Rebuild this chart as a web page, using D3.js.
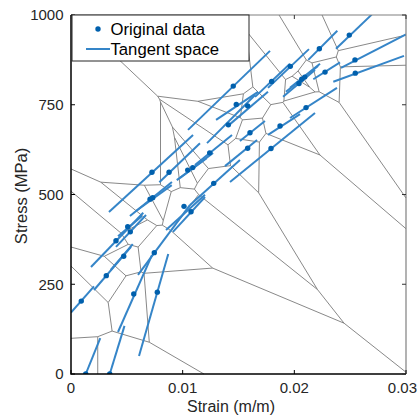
<!DOCTYPE html>
<meta charset="utf-8">
<style>
body{margin:0;background:white}
text{font-family:"Liberation Sans",Arial,sans-serif;fill:#262626}
.cells path{fill:none;stroke:#7a7a7a;stroke-width:0.9px}
.tangents line{stroke:#3585c8;stroke-width:2px;stroke-linecap:butt}
.pts circle{fill:#0060ad}
</style>
<svg width="417" height="415"></svg>
<script src="https://d3js.org/d3.v7.min.js"></script>
<script>

// data points
var strain = [0.00132,0.00347,0.00092,0.00316,0.00472,0.00403,0.00508,0.00531,0.00746,0.00562,
  0.00773,0.00708,0.00732,0.01012,0.01075,0.00725,0.00878,0.01045,0.01090,0.01242,
  0.01278,0.01409,0.01453,0.01480,0.01582,0.01603,0.01582,0.01791,0.01872,0.01797,
  0.01964,0.02042,0.02066,0.02093,0.02105,0.02224,0.02275,0.02492,0.02543,0.02546];
var stress = [0,0,203,274,328,371,410,396,338,223,
  228,487,491,467,452,562,562,568,575,616,
  531,694,802,751,747,672,629,628,691,815,
  857,809,821,827,742,906,841,944,875,838];

// tangent segments, one per point (start / end)
var tanStrain0 = [0.00132,0.00347,0,0.00206,0.00356,0.00179,0.00421,0.00403,0.0060,0.00421,
  0.00609,0.00528,0.00582,0.00851,0.00913,0.0034,0.00791,0.00947,0.00976,0.0111,
  0.01066,0.01218,0.01048,0.01299,0.01424,0.01513,0.01379,0.01424,0.01764,0.01648,
  0.01764,0.01899,0.01925,0.01961,0.01961,0.02125,0.0217,0.02373,0.02418,0.02349];
var tanStress0 = [0,0,171,234,290,298,384,354,276,117,
  50,440,454,401,396,451,534,540,546,582,
  471,643,680,708,696,649,579,535,666,772,
  797,772,786,797,713,875,821,906,853,814];
var tanStrain1 = [0.00262,0.00479,0.00206,0.00537,0.00553,0.00647,0.00636,0.00672,0.01066,0.00725,
  0.00871,0.00904,0.00902,0.0120,0.0120,0.01093,0.01155,0.01215,0.01272,0.01442,
  0.01513,0.01648,0.01782,0.01675,0.01764,0.01737,0.01666,0.02185,0.02051,0.01961,
  0.02131,0.02185,0.02212,0.0223,0.02382,0.02385,0.02409,0.02693,0.030,0.02982];
var tanStress1 = [100,134,244,354,362,449,440,443,471,331,
  334,535,526,499,493,666,643,601,616,666,
  596,777,900,786,786,705,652,727,724,864,
  905,847,858,864,797,956,868,1001,946,886];

var xTicks = [0, 0.01, 0.02, 0.03];
var xTickLabels = ["0", "0.01", "0.02", "0.03"];
var yTicks = [0, 250, 500, 750, 1000];

var svg = d3.select("svg");
var x0 = 71, x1 = 406, y0 = 374, y1 = 15;

var x = d3.scaleLinear().domain([0, 0.03]).range([x0, x1]);
var y = d3.scaleLinear().domain([0, 1000]).range([y0, y1]);

svg.append("defs").append("clipPath").attr("id", "plot")
  .append("rect").attr("x", x0).attr("y", y1)
  .attr("width", x1 - x0).attr("height", y0 - y1);

var pts = strain.map(function(d, i) { return [x(d), y(stress[i])]; });

// voronoi cells of the points
var voronoi = d3.Delaunay.from(pts).voronoi([x0, y1, x1, y0]);
svg.append("g").attr("class", "cells")
  .append("path").attr("d", voronoi.render());

var plot = svg.append("g").attr("clip-path", "url(#plot)");

plot.append("g").attr("class", "tangents")
  .selectAll("line").data(strain)
  .enter().append("line")
    .attr("x1", function(d, i) { return x(tanStrain0[i]); })
    .attr("y1", function(d, i) { return y(tanStress0[i]); })
    .attr("x2", function(d, i) { return x(tanStrain1[i]); })
    .attr("y2", function(d, i) { return y(tanStress1[i]); });

plot.append("g").attr("class", "pts")
  .selectAll("circle").data(strain)
  .enter().append("circle")
    .attr("cx", function(d) { return x(d); })
    .attr("cy", function(d, i) { return y(stress[i]); })
    .attr("r", 2.7);

// box + ticks, matlab style
var tl = 4;
svg.append("path")
  .attr("d", "M" + x0 + "," + y1 + "H" + x1 + "V" + y0)
  .attr("fill", "none").attr("stroke", "#808080").attr("stroke-width", 1.2);
svg.append("path")
  .attr("d", "M" + x0 + "," + y1 + "V" + y0 + "H" + x1)
  .attr("fill", "none").attr("stroke", "#000").attr("stroke-width", 1.5);

var xAxis = svg.append("g");
xTicks.forEach(function(t, i) {
  xAxis.append("line").attr("x1", x(t)).attr("x2", x(t))
    .attr("y1", y0).attr("y2", y0 - tl).attr("stroke", "#000");
  xAxis.append("line").attr("x1", x(t)).attr("x2", x(t))
    .attr("y1", y1).attr("y2", y1 + tl).attr("stroke", "#333");
  var lab = xAxis.append("text").attr("y", y0 + 19)
    .style("font-size", "15px").text(xTickLabels[i]);
  // last label sits on the page edge
  if (x(t) + 15 > 417) lab.attr("x", 417).attr("text-anchor", "end");
  else lab.attr("x", x(t)).attr("text-anchor", "middle");
});

var yAxis = svg.append("g");
yTicks.forEach(function(t) {
  yAxis.append("line").attr("x1", x0).attr("x2", x0 + tl)
    .attr("y1", y(t)).attr("y2", y(t)).attr("stroke", "#000");
  yAxis.append("line").attr("x1", x1).attr("x2", x1 - tl)
    .attr("y1", y(t)).attr("y2", y(t)).attr("stroke", "#333");
  yAxis.append("text").attr("x", x0 - 7.5).attr("y", y(t) + 5.4)
    .attr("text-anchor", "end").style("font-size", "15px").text(t);
});

svg.append("text").attr("x", 231).attr("y", 412)
  .attr("text-anchor", "middle").style("font-size", "16px").text("Strain (m/m)");
svg.append("text").attr("transform", "translate(27,196) rotate(-90)")
  .attr("text-anchor", "middle").style("font-size", "16.5px").text("Stress (MPa)");

// legend
var lg = svg.append("g");
lg.append("rect").attr("x", 72).attr("y", 15).attr("width", 177).attr("height", 46)
  .attr("fill", "white").attr("stroke", "#262626").attr("stroke-width", 1);
lg.append("circle").attr("cx", 98).attr("cy", 29).attr("r", 2.7).attr("fill", "#0060ad");
lg.append("text").attr("x", 110.5).attr("y", 35).style("font-size", "16.7px").style("fill", "#000").text("Original data");
lg.append("line").attr("x1", 86).attr("x2", 110).attr("y1", 49).attr("y2", 49)
  .attr("stroke", "#3585c8").attr("stroke-width", 2);
lg.append("text").attr("x", 110.5).attr("y", 54.5).style("font-size", "16.7px").style("fill", "#000").text("Tangent space");

</script>
